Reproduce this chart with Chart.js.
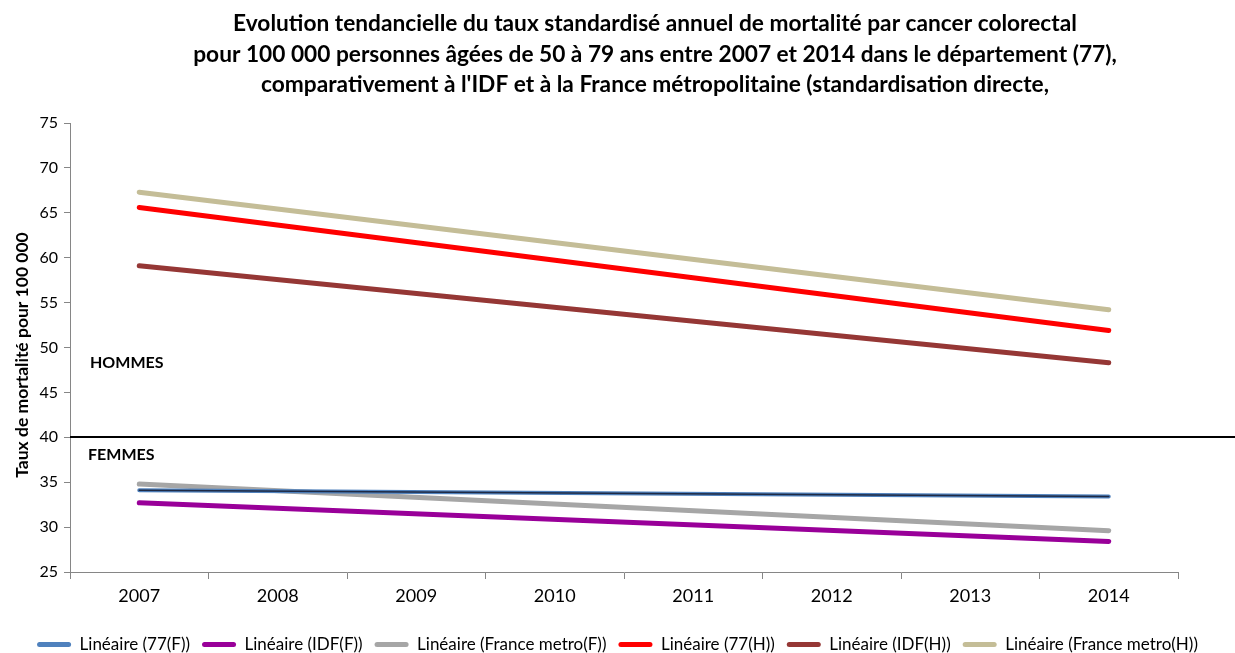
<!DOCTYPE html>
<html>
<head>
<meta charset="utf-8">
<script src="https://cdn.jsdelivr.net/npm/chart.js@4"></script>
<style>
    html, body { margin: 0; padding: 0; background: #fff; }
    #wrap { width: 1235px; height: 653px; }
</style>
</head>
<body>
<div id="wrap"><canvas id="chart" width="1235" height="653"></canvas></div>
<script>
// Years on the x axis
const years = ['2007', '2008', '2009', '2010', '2011', '2012', '2013', '2014'];

// Trend lines: only the start (2007) and end (2014) values are drawn
const dept77F = [34.1, null, null, null, null, null, null, 33.4];
const idfF = [32.7, null, null, null, null, null, null, 28.4];
const franceF = [34.8, null, null, null, null, null, null, 29.6];
const dept77H = [65.6, null, null, null, null, null, null, 51.9];
const idfH = [59.1, null, null, null, null, null, null, 48.3];
const franceH = [67.3, null, null, null, null, null, null, 54.2];

const seriesNames = ['Linéaire (77(F))', 'Linéaire (IDF(F))', 'Linéaire (France metro(F))',
    'Linéaire (77(H))', 'Linéaire (IDF(H))', 'Linéaire (France metro(H))'];

const titleLines = [
    'Evolution tendancielle du taux standardisé annuel de mortalité par cancer colorectal',
    'pour 100 000 personnes âgées de 50 à 79 ans entre 2007 et 2014 dans le département (77),',
    "comparativement à l'IDF et à la France métropolitaine (standardisation directe,"
];
const yTitle = 'Taux de mortalité pour 100 000';

const yTicks = [25, 30, 35, 40, 45, 50, 55, 60, 65, 70, 75];
const dividerValue = 40;

const FONT = "Lato, 'Open Sans', sans-serif";
const axisColor = '#868686';

function trend(label, data, color, width) {
    return {
        label: label,
        data: data,
        borderColor: color,
        backgroundColor: color,
        borderWidth: width,
        borderCapStyle: 'round',
        pointRadius: 0,
        spanGaps: true,
        tension: 0
    };
}

// Title block, y axis title, separator at 40 and HOMMES / FEMMES labels
const annotations = {
    id: 'annotations',
    afterDraw(chart) {
        const ctx = chart.ctx;
        ctx.save();
        ctx.fillStyle = '#000';
        ctx.textAlign = 'center';
        ctx.textBaseline = 'middle';
        ctx.font = 'bold 22.7px ' + FONT;
        titleLines.forEach((line, i) => {
            ctx.fillText(line, 655, 24 + i * 30.5);
        });

        ctx.save();
        ctx.translate(22, 355);
        ctx.rotate(-Math.PI / 2);
        ctx.font = 'bold 17.5px ' + FONT;
        ctx.fillText(yTitle, 0, 0);
        ctx.restore();
        ctx.restore();
    },
    afterDatasetsDraw(chart) {
        const ctx = chart.ctx;
        const y = chart.scales.y;
        const area = chart.chartArea;
        const py = Math.round(y.getPixelForValue(dividerValue));
        ctx.save();
        ctx.strokeStyle = '#000';
        ctx.lineWidth = 2;
        ctx.beginPath();
        ctx.moveTo(area.left, py);
        ctx.lineTo(chart.width, py);
        ctx.stroke();
        ctx.fillStyle = '#000';
        ctx.font = 'bold 16px ' + FONT;
        ctx.textBaseline = 'middle';
        ctx.fillText('HOMMES', area.left + 20, y.getPixelForValue(48.3));
        ctx.fillText('FEMMES', area.left + 18, y.getPixelForValue(38.0));
        ctx.restore();
    }
};

const overlay = trend('', dept77F, '#1F2A44', 1.5);
overlay.order = -1;

const ctx = document.getElementById('chart').getContext('2d');
new Chart(ctx, {
    type: 'line',
    data: {
        labels: years,
        datasets: [
            trend(seriesNames[0], dept77F, '#4F81BD', 4),
            trend(seriesNames[1], idfF, '#990099', 5),
            trend(seriesNames[2], franceF, '#A6A6A6', 5),
            trend(seriesNames[3], dept77H, '#FF0000', 5),
            trend(seriesNames[4], idfH, '#953735', 5),
            trend(seriesNames[5], franceH, '#C4BD97', 5),
            overlay
        ]
    },
    options: {
        responsive: false,
        animation: false,
        layout: {
            padding: { left: 0, right: 0, top: 123, bottom: -10 }
        },
        plugins: {
            title: { display: false },
            legend: {
                position: 'bottom',
                labels: {
                    color: '#000',
                    font: { family: FONT, size: 17 },
                    boxWidth: 34,
                    boxHeight: 5,
                    padding: 12,
                    useBorderRadius: true,
                    borderRadius: 2.5,
                    generateLabels: chart => {
                        const items = Chart.defaults.plugins.legend.labels.generateLabels(chart);
                        return items
                            .filter(item => item.text !== '')
                            .map(item => Object.assign(item, { lineWidth: 0 }));
                    }
                }
            },
            tooltip: { enabled: false }
        },
        scales: {
            x: {
                offset: true,
                afterFit: axis => {
                    axis.height = 52;
                },
                grid: {
                    display: true,
                    offset: true,
                    drawOnChartArea: false,
                    color: axisColor,
                    tickLength: 7
                },
                border: { color: axisColor, width: 1 },
                ticks: {
                    color: '#000',
                    font: { family: FONT, size: 18 },
                    padding: 6
                }
            },
            y: {
                min: 25,
                max: 75,
                afterBuildTicks: axis => {
                    axis.ticks = yTicks.map(v => ({ value: v }));
                },
                afterFit: axis => {
                    axis.width = 70;
                },
                grid: {
                    display: true,
                    drawOnChartArea: false,
                    color: axisColor,
                    tickLength: 6
                },
                border: { color: axisColor, width: 1 },
                ticks: {
                    color: '#000',
                    font: { family: FONT, size: 16 },
                    padding: 6
                }
            },
            // empty right-hand axis, only keeps the white margin right of the plot
            spacer: {
                position: 'right',
                min: 25,
                max: 75,
                afterFit: axis => {
                    axis.width = 57;
                },
                grid: { display: false },
                border: { display: false },
                ticks: { display: false }
            }
        }
    },
    plugins: [annotations]
});
</script>
</body>
</html>
